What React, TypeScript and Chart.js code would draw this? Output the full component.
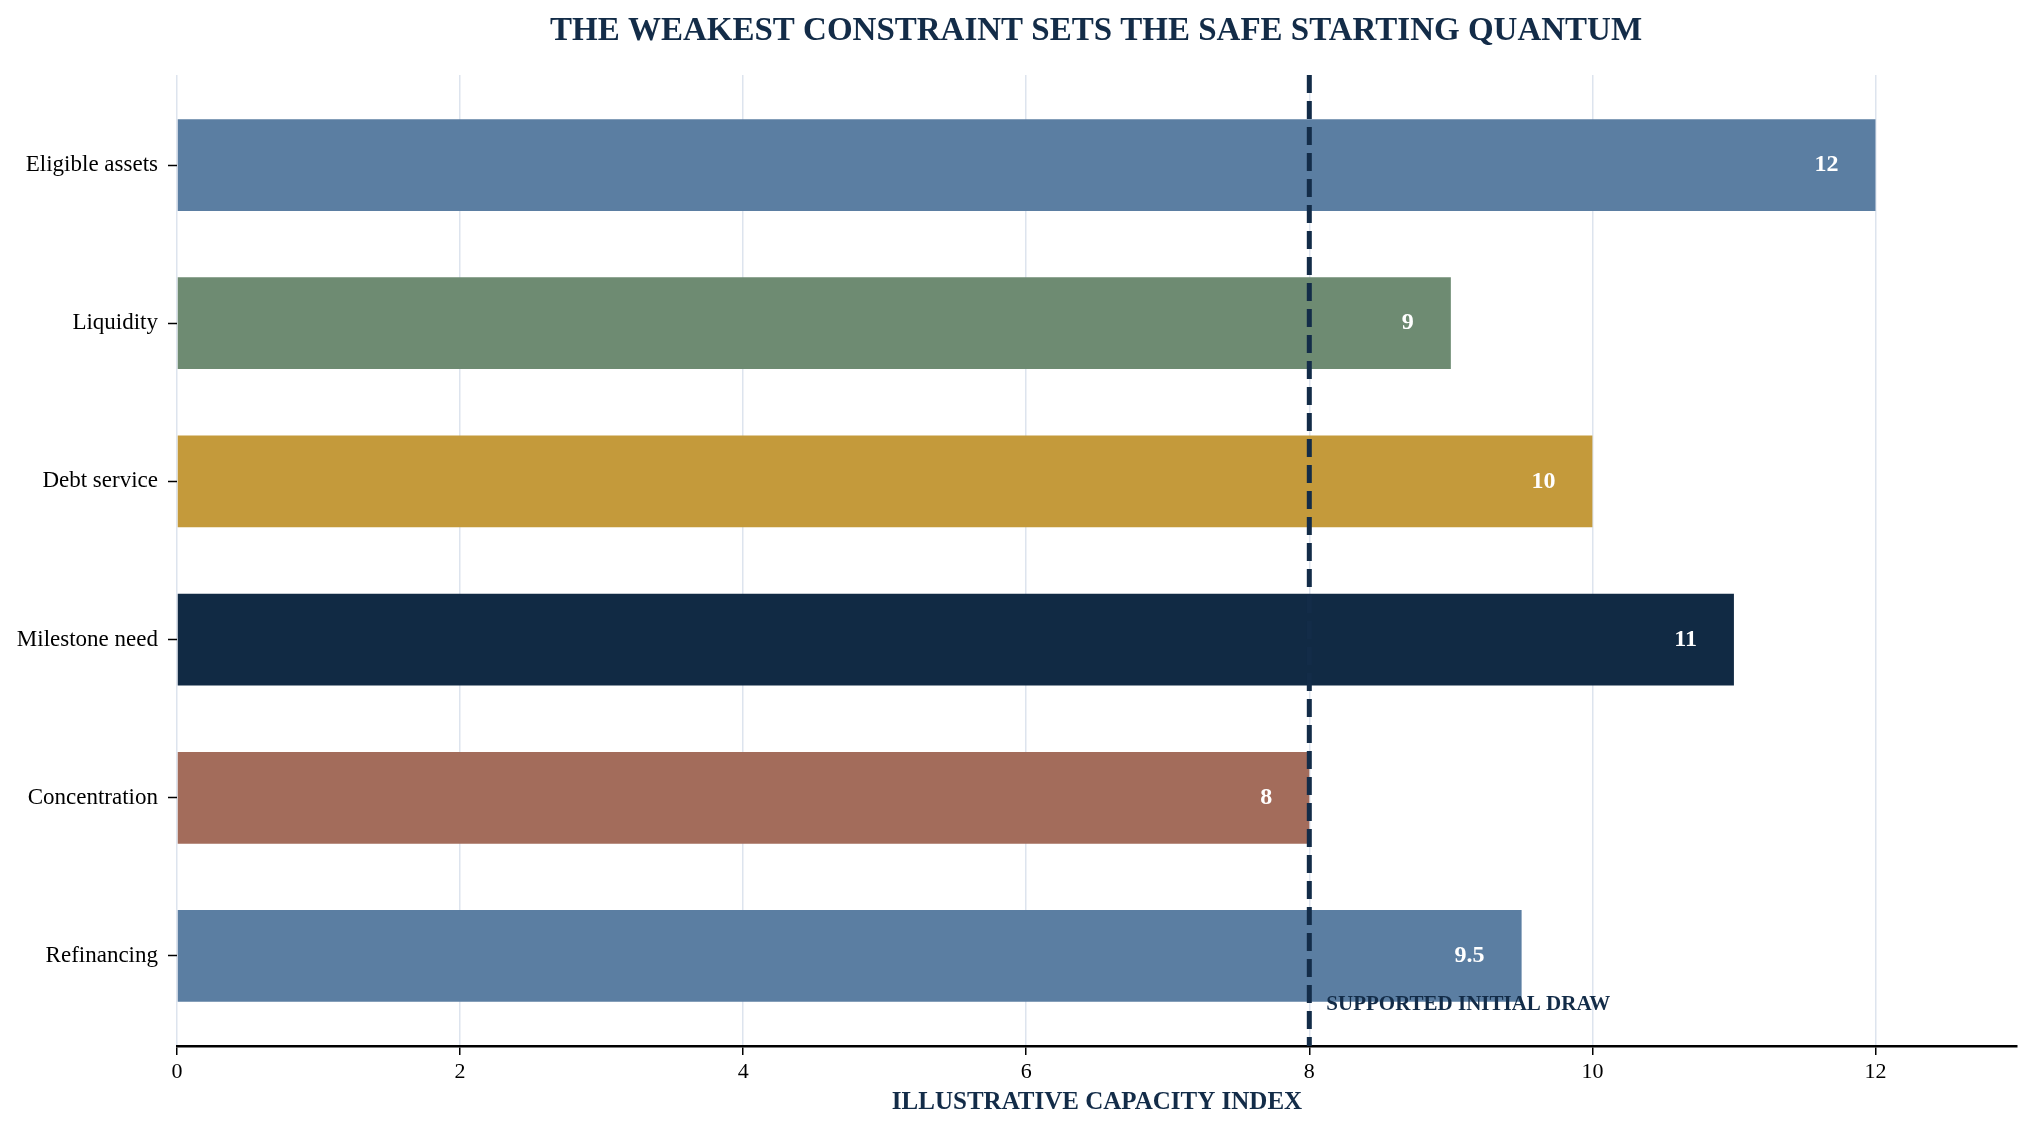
import { useEffect, useRef } from "react";
import { Chart, registerables } from "chart.js";

Chart.register(...registerables);

const categories = [
  "Eligible assets",
  "Liquidity",
  "Debt service",
  "Milestone need",
  "Concentration",
  "Refinancing"
];
const capacity = [12, 9, 10, 11, 8, 9.5];
const barColors = ["#5b7ea2", "#6e8b72", "#c49a3b", "#112a44", "#a36c5b", "#5b7ea2"];
const xTicks = [0, 2, 4, 6, 8, 10, 12];
const supportedDraw = 8;
const drawLabel = "SUPPORTED INITIAL DRAW";
// where the draw label sits, in data units (capacity, category row)
const drawLabelAt = [8.12, 5.31];

const TITLE = "THE WEAKEST CONSTRAINT SETS THE SAFE STARTING QUANTUM";
const X_TITLE = "ILLUSTRATIVE CAPACITY INDEX";
const NAVY = "#132c48";
const SERIF = "'Liberation Serif', 'Times New Roman', Times, serif";

const overlay = {
  id: "overlay",
  afterDatasetsDraw(chart: Chart) {
    const { ctx, chartArea, scales } = chart;
    const x = scales.x;
    const y = scales.y;
    const bars = chart.getDatasetMeta(0).data;

    // value labels inside the bar ends
    ctx.save();
    ctx.fillStyle = "#ffffff";
    ctx.font = `bold 24px ${SERIF}`;
    ctx.textAlign = "right";
    ctx.textBaseline = "middle";
    bars.forEach((bar: any, i: number) => {
      ctx.fillText(String(capacity[i]), bar.x - 37, bar.y);
    });
    ctx.restore();

    // dashed threshold line
    const px = x.getPixelForValue(supportedDraw);
    ctx.save();
    ctx.strokeStyle = NAVY;
    ctx.lineWidth = 5;
    ctx.setLineDash([18, 8]);
    ctx.beginPath();
    ctx.moveTo(px, chartArea.top);
    ctx.lineTo(px, chartArea.bottom);
    ctx.stroke();
    ctx.restore();

    ctx.save();
    ctx.fillStyle = NAVY;
    ctx.font = `bold 21px ${SERIF}`;
    ctx.textAlign = "left";
    ctx.textBaseline = "middle";
    ctx.fillText(
      drawLabel,
      x.getPixelForValue(drawLabelAt[0]),
      y.getPixelForValue(drawLabelAt[1])
    );
    ctx.restore();
  },
  afterDraw(chart: Chart) {
    const { ctx, chartArea } = chart;
    ctx.save();
    ctx.fillStyle = NAVY;
    ctx.font = `bold 33px ${SERIF}`;
    ctx.textAlign = "center";
    ctx.textBaseline = "middle";
    ctx.fillText(TITLE, (chartArea.left + chartArea.right) / 2 - 1, 31);
    ctx.restore();
  }
};

export default function App() {
  const canvasRef = useRef<HTMLCanvasElement | null>(null);

  useEffect(() => {
    if (!canvasRef.current) return;
    document.body.style.margin = "0";

    const chart = new Chart(canvasRef.current, {
      type: "bar",
      data: {
        datasets: [
          {
            data: capacity.map((v, i) => ({ x: v, y: i })),
            backgroundColor: barColors,
            borderWidth: 0,
            barPercentage: 0.58,
            categoryPercentage: 1
          }
        ]
      },
      options: {
        indexAxis: "y",
        responsive: false,
        animation: false,
        layout: { padding: { top: 75, right: 17, left: 0, bottom: 0 } },
        plugins: {
          legend: { display: false },
          tooltip: { enabled: false },
          title: { display: false }
        },
        scales: {
          x: {
            type: "linear",
            position: "bottom",
            min: 0,
            max: 13,
            afterBuildTicks: (scale: any) => {
              scale.ticks = xTicks.map((v) => ({ value: v }));
            },
            afterFit: (scale: any) => {
              scale.height = 88;
            },
            ticks: {
              color: "#000000",
              padding: 4,
              font: { family: SERIF, size: 22 }
            },
            grid: {
              color: "#dde4ee",
              lineWidth: 1.5,
              tickColor: "#000000",
              tickLength: 9,
              tickWidth: 1.5
            },
            border: { display: true, color: "#000000", width: 2.5 },
            title: {
              display: true,
              text: X_TITLE,
              color: NAVY,
              font: { family: SERIF, size: 25, weight: "bold" },
              padding: { top: 0, bottom: 16 }
            }
          },
          y: {
            type: "linear",
            reverse: true,
            offset: false,
            min: -0.569,
            max: 5.569,
            afterBuildTicks: (scale: any) => {
              scale.ticks = categories.map((_, i) => ({ value: i }));
            },
            afterFit: (scale: any) => {
              scale.width = 177;
            },
            ticks: {
              color: "#000000",
              padding: 10,
              font: { family: SERIF, size: 23 },
              callback: (v: any) => categories[Number(v)] ?? ""
            },
            grid: {
              offset: false,
              drawOnChartArea: false,
              tickColor: "#000000",
              tickLength: 9,
              tickWidth: 1.5
            },
            border: { display: false }
          }
        }
      },
      plugins: [overlay]
    });

    return () => chart.destroy();
  }, []);

  return (
    <div style={{ position: "fixed", left: 0, top: 0, width: 2034, height: 1134, background: "#ffffff" }}>
      <canvas ref={canvasRef} width={2034} height={1134} style={{ width: 2034, height: 1134 }} />
    </div>
  );
}
